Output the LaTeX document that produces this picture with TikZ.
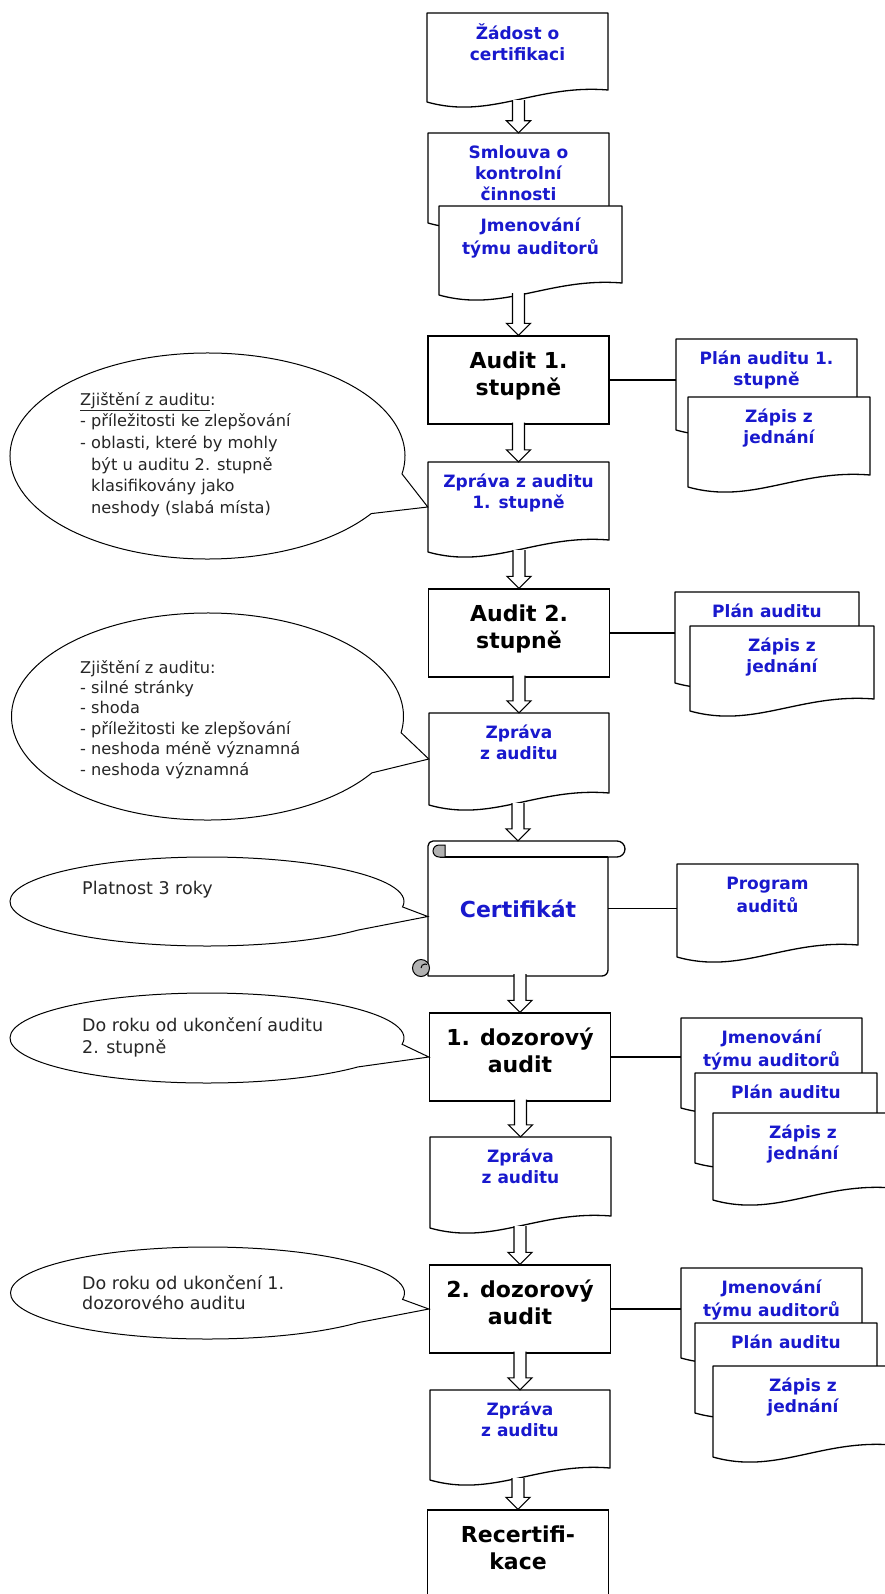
\documentclass[tikz,border=0pt]{standalone}
\usepackage{fontspec}
\setmainfont{DejaVu Sans}
\usetikzlibrary{calc}

\definecolor{docblue}{RGB}{25,25,205}

\tikzset{
  box/.style = {draw, line width=1.3pt, fill=white, minimum width=181, minimum height=88,
    align=center, text depth=13pt, font=\fontsize{22}{27}\selectfont\bfseries},
  docline/.style = {draw, line width=1.3pt, fill=white, line join=round},
  docarea/.style = {inner sep=0pt},
  doctext/.style = {anchor=north, inner sep=0pt, align=center, text=docblue,
    font=\fontsize{17}{21}\selectfont\bfseries},
  blockline/.style = {draw, line width=1.1pt, fill=white},
  link/.style = {line width=1.3pt},
  balloonline/.style = {draw, line width=1pt, fill=white},
  calltext/.style = {anchor=north west, inner sep=0pt, align=left, text=black!85},
  curl/.style = {draw, line width=1pt, fill=black!30}
}

% document: name, top left, width, height, text
\newcommand{\flowdoc}[5]{%
  \begin{scope}[shift={(#2)}]
    \filldraw[docline] (0,0) -- (#3,0) -- (#3,#4-12)
      .. controls (0.6*#3,#4-18) and (0.35*#3,#4+18) .. (0,#4) -- cycle;
    \path (#3/2,#4/2) node[docarea, minimum width=#3, minimum height=#4] (#1) {};
    \path (#3/2,11) node[doctext] (#1-t) {\strut #5};
  \end{scope}}

% hollow arrow from #1 down to #2
\newcommand{\blockarrow}[2]{%
  \filldraw[blockline] ($(#1.south -| #2.north)+(-6,-2)$) -- ($(#2.north)+(-6,-12)$)
    -- ++(-6,0) -- (#2.north) -- ++(12,-12) -- ++(-6,0)
    -- ($(#1.south -| #2.north)+(6,-2)$);}

% balloon: centre, x radius, y radius, angle 1, angle 2, tip
\newcommand{\balloon}[6]{%
  \filldraw[balloonline] ($(#1)+(#5:#2 and #3)$)
    arc[start angle=#5, end angle=360+#4, x radius=#2, y radius=#3] -- (#6) -- cycle;}

\begin{document}
\begin{tikzpicture}[x=1pt,y=-1pt]
\clip (0,0) rectangle (885,1594);
\fill[white] (0,0) rectangle (885,1594);

% zacatek
\flowdoc{zadost}{427,13}{181}{89}{Žádost o\\certifikaci}
\flowdoc{smlouva}{428,133}{181}{90}{Smlouva o\\kontrolní\\činnosti}
\flowdoc{jmenovani}{439,206}{183}{89}{Jmenování\\týmu auditorů}

% audit 1. stupne
\path (518.5,380) node[box] (audit1) {Audit 1.\\stupně};
\flowdoc{plan1}{676,339}{181}{91}{Plán auditu 1.\\stupně}
\flowdoc{zapis1}{688,397}{182}{90}{Zápis z\\jednání}
\flowdoc{zprava1}{428,462}{181}{90}{Zpráva z auditu\\1. stupně}

% audit 2. stupne
\path (519,633) node[box] (audit2) {Audit 2.\\stupně};
\flowdoc{plan2}{675,592}{184}{91}{Plán auditu}
\flowdoc{zapis2}{690,626}{184}{85}{Zápis z\\jednání}
\flowdoc{zprava2}{429,713}{180}{92}{Zpráva\\z auditu}

% certifikat
\filldraw[docline] (428,976) -- (428,846) arc[start angle=180, end angle=270, radius=5]
  -- (617,841) arc[start angle=-90, end angle=90, radius=8] -- (608,857)
  -- (608,970) arc[start angle=0, end angle=90, radius=6] -- cycle;
\draw[link] (608,857) -- (440,857);
\filldraw[curl] (445,857) -- (439,857) arc[start angle=90, end angle=270, radius=6] -- (445,845) -- cycle;
\filldraw[curl] (421,968) circle[radius=8.5];
\draw[line width=1pt] (421,968) arc[start angle=180, end angle=300, radius=4];
\path (518,908.5) node[docarea, minimum width=180, minimum height=135, text=docblue,
  font=\fontsize{22}{27}\selectfont\bfseries] (cert) {Certifikát};
\flowdoc{program}{677,864}{181}{93}{Program\\auditů}

% 1. dozorovy audit
\path (520,1057) node[box] (dozor1) {1. dozorový\\audit};
\flowdoc{jmen1}{681,1018}{181}{90}{Jmenování\\týmu auditorů}
\flowdoc{plan3}{695,1073}{182}{90}{Plán auditu}
\flowdoc{zapis3}{713,1113}{180}{87}{Zápis z\\jednání}
\flowdoc{zprava3}{430,1137}{181}{91}{Zpráva\\z auditu}

% 2. dozorovy audit
\path (520,1309) node[box] (dozor2) {2. dozorový\\audit};
\flowdoc{jmen2}{681,1268}{181}{90}{Jmenování\\týmu auditorů}
\flowdoc{plan4}{695,1323}{182}{90}{Plán auditu}
\flowdoc{zapis4}{713,1366}{180}{91}{Zápis z\\jednání}
\flowdoc{zprava4}{430,1390}{180}{90}{Zpráva\\z auditu}

\path (518,1565) node[box, minimum height=110, text depth=35pt] (recert) {Recertifi-\\kace};

% sipky
\blockarrow{zadost}{smlouva}
\blockarrow{jmenovani}{audit1}
\blockarrow{audit1}{zprava1}
\blockarrow{zprava1}{audit2}
\blockarrow{audit2}{zprava2}
\blockarrow{zprava2}{cert}
\blockarrow{cert}{dozor1}
\blockarrow{dozor1}{zprava3}
\blockarrow{zprava3}{dozor2}
\blockarrow{dozor2}{zprava4}
\blockarrow{zprava4}{recert}

\draw[link] (audit1.east) -- (audit1.east -| plan1.west);
\draw[link] (audit2.east) -- (audit2.east -| plan2.west);
\draw[link] (cert.east) -- (cert.east -| program.west);
\draw[link] (dozor1.east) -- (dozor1.east -| jmen1.west);
\draw[link] (dozor2.east) -- (dozor2.east -| jmen2.west);

% bubliny
\balloon{207.5,456}{197.5}{103}{10}{34}{zprava1.west}
\path (80,392) node[calltext, font=\fontsize{16.2}{21.7}\selectfont] (zjisteni1)
  {\underline{Zjištění z auditu}:\\
   - příležitosti ke zlepšování\\
   - oblasti, které by mohly\\
   \phantom{- }být u auditu 2. stupně\\
   \phantom{- }klasifikovány jako\\
   \phantom{- }neshody (slabá místa)};

\balloon{207.5,716.5}{196}{103.5}{9}{33}{zprava2.west}
\path (80,660) node[calltext, font=\fontsize{16.2}{20.4}\selectfont] (zjisteni2)
  {Zjištění z auditu:\\
   - silné stránky\\
   - shoda\\
   - příležitosti ke zlepšování\\
   - neshoda méně významná\\
   - neshoda významná};

\balloon{207,901.5}{197}{44.5}{7}{40}{$(cert.west)+(0,8)$}
\path (82,881) node[calltext, font=\fontsize{17.5}{22}\selectfont] (platnost) {Platnost 3 roky};

\balloon{207,1038}{197}{45}{8}{40}{dozor1.west}
\path (82,1017) node[calltext, font=\fontsize{17.5}{22.5}\selectfont] (lhuta1)
  {Do roku od ukončení auditu\\2. stupně};

\balloon{207.5,1293}{197}{46}{8}{40}{dozor2.west}
\path (82,1275) node[calltext, font=\fontsize{17.5}{20}\selectfont] (lhuta2)
  {Do roku od ukončení 1.\\dozorového auditu};
\end{tikzpicture}
\end{document}
